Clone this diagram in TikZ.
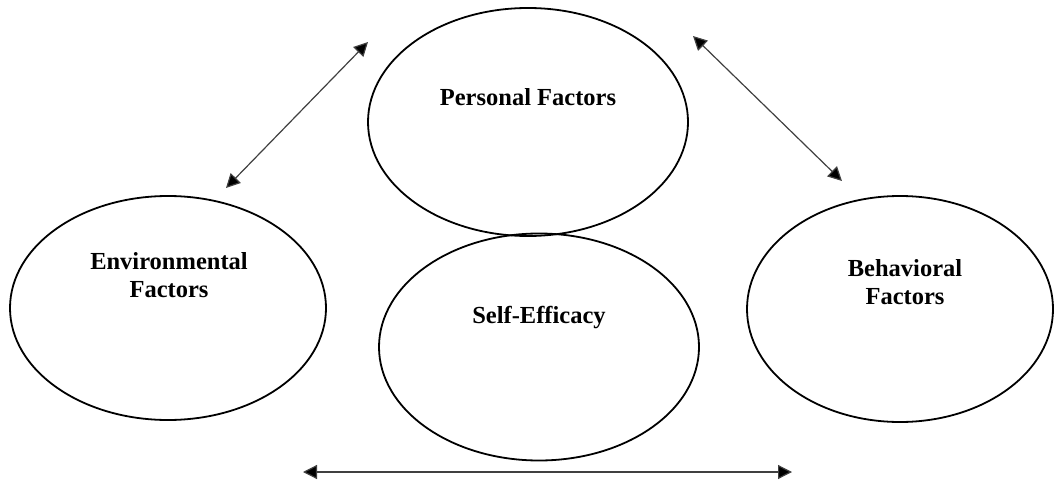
\documentclass[tikz,border=0pt]{standalone}
\usepackage{fontspec}
\setmainfont{Liberation Serif}
\usetikzlibrary{shapes.geometric,arrows.meta}
\tikzset{
	factor/.style={draw,ellipse,line width=1.8pt,inner sep=0pt},
	lbl/.style={font=\fontsize{24.5}{28}\selectfont\bfseries,align=center,inner sep=0pt},
	link/.style={line width=1.2pt,draw=black!75,{Triangle[length=14pt,width=14pt,fill=black]}-{Triangle[length=14pt,width=14pt,fill=black]}}
}
\begin{document}
\begin{tikzpicture}[x=1pt,y=-1pt]
	\useasboundingbox (0,0) rectangle (1054,481);
	% the four ellipses
	\node[factor,minimum width=320pt,minimum height=228pt] (pers) at (528,122) {};
	\node[factor,minimum width=320pt,minimum height=227pt] (self) at (539,347) {};
	\node[factor,minimum width=316pt,minimum height=224pt] (env) at (168,308) {};
	\node[factor,minimum width=306pt,minimum height=226pt] (beh) at (900,309) {};
	% labels
	\node[lbl] (perst) at (528,97) {Personal Factors};
	\node[lbl] (selft) at (539,318) {Self-Efficacy};
	\node[lbl] (envt) at (169,275) {Environmental\\Factors};
	\node[lbl] (beht) at (905,282) {Behavioral\\Factors};
	% end points of the arrows
	\coordinate (L1) at (368,42);
	\coordinate (L2) at (226,188);
	\coordinate (R1) at (693,36);
	\coordinate (R2) at (842,181);
	\coordinate (B1) at (303,472);
	\coordinate (B2) at (792,472);
	\draw[link] (L1) -- (L2);
	\draw[link] (R1) -- (R2);
	\draw[link] (B1) -- (B2);
\end{tikzpicture}
\end{document}
